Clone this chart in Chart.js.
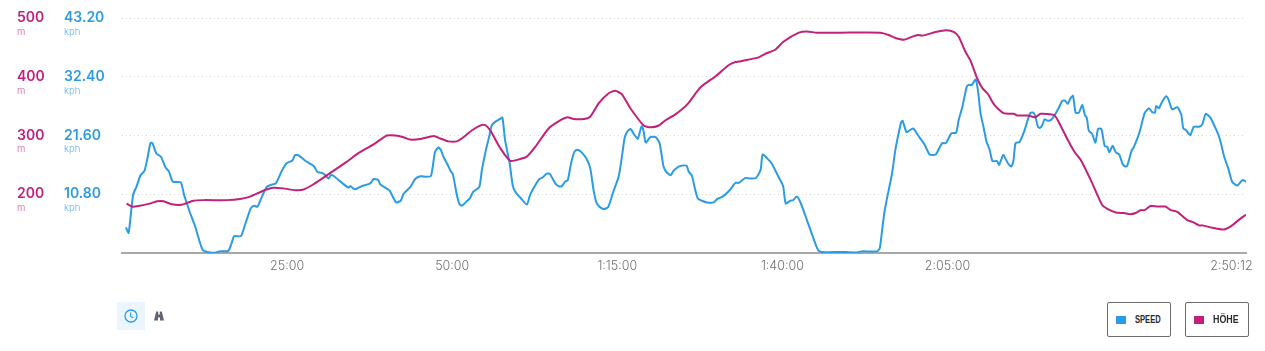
<!DOCTYPE html>
<html><head><meta charset="utf-8">
<style>
html,body{margin:0;padding:0;background:#fff;width:1265px;height:351px;overflow:hidden}
#wrap{position:relative;width:1265px;height:351px}
canvas{position:absolute;left:0;top:0}
.btn{position:absolute;top:302px;width:62px;height:33px;border:1px solid #6b6b6b;border-radius:2px;background:#fff;box-sizing:content-box}
.btn i{position:absolute;left:8px;top:13px;width:10px;height:8px}
.btn span{position:absolute;left:27px;top:10px;font:bold 11px/13px "Liberation Sans",sans-serif;color:#2b2b2b;transform-origin:0 50%;white-space:nowrap}
#clock{position:absolute;left:117px;top:302px;width:28px;height:28px;background:#eaf5fd}
#clock svg{position:absolute;left:7px;top:7px}
#bino{position:absolute;left:154px;top:311px}
</style></head><body>
<div id="wrap">
<canvas id="c" width="1265" height="351"></canvas>
<div id="clock"><svg width="14" height="14" viewBox="0 0 14 14"><circle cx="7" cy="7" r="6" fill="none" stroke="#2b9be3" stroke-width="1.3"/><path d="M6.6 3.6V7.4L9.4 8.8" fill="none" stroke="#2b9be3" stroke-width="1.1"/></svg></div>
<svg id="bino" width="10" height="10" viewBox="0 0 10 10"><path d="M2.2 0.5H4.2V3.5H5.8V0.5H7.8L10 9.5H6V6.5H4V9.5H0Z" fill="#5f6670"/></svg>
<div id="legend"></div>
</div>
<script src="https://cdn.jsdelivr.net/npm/chart.js@4"></script>
<script>
const speedTimes=[0.6,1.0,1.3,1.7,2.2,2.8,3.4,3.9,4.3,4.6,5.2,5.9,6.6,7.1,7.7,8.9,9.4,10.3,11.1,12.2,13.3,14.3,14.7,16.1,16.6,17.0,18.0,18.6,19.5,20.0,20.5,21.2,21.9,22.5,23.3,24.2,24.9,25.8,26.2,26.8,27.7,28.5,29.1,29.6,30.5,31.3,31.6,32.0,33.3,34.3,34.6,35.2,36.3,37.6,38.1,38.8,39.1,39.6,40.5,41.5,42.2,42.6,43.7,44.4,45.2,
46.1,46.8,47.4,47.9,48.3,48.7,49.2,49.8,50.1,50.7,51.1,51.5,52.1,52.7,53.2,54.1,54.5,55.1,55.6,56.0,56.5,57.2,57.6,58.0,58.7,59.2,59.7,60.3,61.3,61.8,62.6,63.2,63.7,64.3,64.8,65.6,66.1,66.6,67.1,67.5,68.0,68.5,69.0,69.6,70.3,70.9,71.4,71.8,72.3,72.9,73.6,74.4,75.2,75.7,76.1,76.5,77.0,77.6,78.1,78.5,78.7,79.0,79.3,80.0,80.8,81.4,82.0,82.5,83.1,83.5,84.3,85.0,85.5,85.8,86.3,86.8,87.2,87.8,88.6,89.6,90.1,91.0,91.9,92.9,93.4,94.4,95.1,96.0,96.7,97.0,97.7,98.4,99.2,100.1,100.5,101.2,101.6,102.2,102.8,103.7,104.7,105.6,108.8,
111.1,112.1,114.35,114.75,115.1,115.5,116.1,116.6,117.1,117.6,118.0,118.2,118.8,119.2,119.8,120.5,121.5,122.3,123.2,123.8,124.2,124.75,125.6,126.3,126.7,127.2,127.9,128.2,128.7,129.25,129.6,130.0,130.5,130.9,131.4,131.8,132.5,132.8,133.4,133.5,134.2,134.65,135.0,135.3,135.9,136.6,137.5,138.0,138.3,138.7,139.0,139.35,139.7,140.2,140.7,141.4,141.9,142.4,142.8,143.2,143.6,144.0,144.4,144.9,145.4,145.8,146.1,146.4,146.9,147.4,147.8,148.3,148.8,149.2,149.5,150.0,150.5,151.0,151.5,151.9,152.2,152.9,153.2,154.1,154.85,155.5,156.0,156.4,156.6,157.0,157.5,158.1,158.5,159.0,159.8,160.4,160.7,161.1,161.6,161.8,162.3,163.1,163.6,164.1,164.85,165.6,166.2,166.9,167.5,168.1,168.9,169.65,170.2];
const speedValues=[4.7,3.7,6.7,10.8,12.2,14.3,15.1,17.7,20.2,20.2,18.3,17.7,15.7,15.0,13.1,13.0,10.7,7.4,4.8,0.6,0.1,0.1,0.3,0.4,1.8,3.1,3.1,5.1,8.2,8.7,8.5,10.4,12.1,12.5,12.8,15.1,16.5,17.0,18.0,17.9,17.0,16.4,15.9,14.9,14.6,13.7,14.3,14.2,12.9,12.0,12.3,11.7,12.3,12.8,13.6,13.4,12.6,12.2,11.5,9.3,9.6,10.8,12.2,13.6,14.1,
14.0,14.2,18.6,19.4,18.9,17.6,16.5,15.0,14.5,10.7,9.0,8.7,9.4,10.1,11.3,12.1,15.3,18.9,21.4,23.5,24.1,24.6,24.9,20.8,16.5,12.2,11.0,10.2,8.9,10.7,12.5,13.6,13.9,14.6,14.5,12.8,12.3,12.3,13.1,13.4,16.5,18.6,19.0,18.5,17.4,15.6,11.6,9.4,8.5,8.1,8.4,11.3,14.0,17.7,21.1,22.3,22.8,21.7,21.0,22.6,23.3,22.3,20.3,21.3,21.3,20.2,15.9,14.8,14.3,15.1,15.9,16.1,16.0,15.0,14.2,11.6,10.0,9.6,9.3,9.3,9.9,10.4,11.4,12.9,12.9,13.8,13.7,13.8,15.3,18.1,17.4,16.4,14.5,12.3,9.1,9.6,9.7,10.4,9.1,6.1,2.7,0.3,0.2,
0.1,0.3,0.3,0.9,4.2,7.9,11.6,14.6,18.9,22.0,24.1,24.3,22.2,22.5,22.9,21.7,20.0,18.1,18.1,19.4,20.2,20.2,22.0,22.1,24.5,26.6,30.5,30.9,30.9,31.9,30.0,25.7,22.9,20.5,18.9,16.9,16.9,16.2,18.0,18.0,16.4,15.9,17.1,20.2,20.4,22.3,25.7,25.8,25.1,23.2,23.0,23.5,24.6,24.3,24.5,25.7,26.8,28.0,28.0,27.4,28.4,28.9,25.8,25.8,27.2,25.4,24.8,22.5,21.9,20.3,22.8,22.8,19.7,19.5,18.5,19.7,18.5,18.1,16.4,15.9,16.0,18.9,19.4,22.3,25.7,26.6,25.9,25.8,27.0,26.6,27.8,28.8,28.1,26.4,26.8,25.4,22.9,22.6,21.8,21.7,23.2,23.2,23.7,25.6,24.8,22.9,21.1,17.7,15.6,13.1,12.4,13.4,13.1];
const altitudeTimes=[0.7,1.5,2.5,4.2,5.3,6.3,7.5,9.0,10.8,12.3,15.9,17.9,19.4,21.4,22.9,24.4,26.2,27.5,29.0,31.0,34.0,35.8,38.1,40.1,41.4,42.6,43.6,45.2,47.2,48.2,49.4,50.7,51.7,53.0,54.5,55.1,55.8,57.3,58.8,60.3,61.3,62.6,64.6,66.1,67.4,68.4,69.9,70.9,72.2,73.7,74.7,75.7,77.0,79.0,80.0,81.3,82.3,83.8,85.6,87.6,89.9,91.9,92.9,94.4,96.4,97.4,98.9,100.2,102.5,103.7,105.25,108.8,114.85,116.1,117.1,118.4,119.4,120.5,121.2,123.2,124.85,126.0,126.7,127.7,128.5,129.5,130.25,131.1,132.1,133.5,135.05,135.55,137.1,138.3,139.1,141.1,141.7,143.1,144.3,145.2,146.7,148.4,149.2,150.5,151.7,152.7,153.5,154.25,154.85,155.75,156.8,158.0,158.8,159.8,161.3,162.1,163.1,163.6,165.1,166.9,168.1,169.4,170.2];
const altitudeValues=[184,179,180,184,188,188,183,182,189,190,190,192,196,206,211,210,207,208,217,232,255,270,285,300,300,297,293,294,299,295,290,290,297,309,318,317,308,278,257,260,264,281,312,324,331,328,328,332,355,372,376,370,346,317,314,317,326,336,353,382,401,420,425,428,433,439,446,460,475,477,475,475,475,471,466,463,467,471,470,476,479,476,468,443,427,397,381,371,352,338,337,334,334,331,337,335,326,295,271,258,224,182,175,169,168,166,168,173,173,180,179,179,173,170,156,153,147,147,143,140,147,159,165];
const xTickValues=[25,50,75,100,125,168];
const xTickLabels=['25:00','50:00','1:15:00','1:40:00','2:05:00','2:50:12'];
const altitudeTicks=[100,200,300,400,500];
const speedTicks=[0,10.8,21.6,32.4,43.2];
const seriesNames=['SPEED','HÖHE'];
const BLUE='#2b9be3',PINK='#c0217a';
const FONT='Inter, "Open Sans", sans-serif';

function zip(a,b){return a.map((x,i)=>({x,y:b[i]}));}
const fixedWidth=w=>(s)=>{s.width=w;};

const unitsPlugin={id:'units',afterDraw(ch){
  const g=ch.ctx;g.save();g.font='300 9.5px '+FONT;g.textBaseline='middle';g.textAlign='left';
  for(const [id,unit,col,list] of [['alt','m','#cf5a9b',altitudeTicks],['spd','kph','#62b3ea',speedTicks]]){
    const s=ch.scales[id];g.fillStyle=col;
    list.slice(1).forEach(v=>g.fillText(unit,s.left,s.getPixelForValue(v)+14));
  }
  g.restore();
}};

new Chart(document.getElementById('c'),{
  type:'line',
  data:{datasets:[
    {label:seriesNames[0],data:zip(speedTimes,speedValues),yAxisID:'spd',borderColor:BLUE,order:2},
    {label:seriesNames[1],data:zip(altitudeTimes,altitudeValues),yAxisID:'alt',borderColor:PINK,order:1}
  ]},
  options:{
    responsive:false,animation:false,
    layout:{padding:{left:17,top:18,right:19,bottom:0}},
    elements:{point:{radius:0},line:{borderWidth:2,tension:0.2,borderJoinStyle:'round'}},
    plugins:{legend:{display:false},tooltip:{enabled:false}},
    scales:{
      x:{type:'linear',min:0,max:170.2,
        afterFit:s=>{s.height=98;},
        afterBuildTicks:s=>{s.ticks=xTickValues.map(v=>({value:v}));},
        grid:{display:false,drawTicks:false},
        border:{display:true,color:'#a8a8a8',width:2,dash:[2,1]},
        ticks:{autoSkip:false,maxRotation:0,padding:6,color:'#6f6f6f',font:{family:FONT,size:12.5,weight:'300'},
          callback:(v)=>xTickLabels[xTickValues.indexOf(v)]}
      },
      spd:{position:'left',min:0,max:43.2,
        afterFit:fixedWidth(58),
        afterBuildTicks:s=>{s.ticks=speedTicks.map(v=>({value:v}));},
        border:{display:false},
        grid:{display:false},
        ticks:{crossAlign:'far',padding:0,color:BLUE,font:{family:FONT,size:14,weight:'600'},
          callback:v=>v===0?'':v.toFixed(2)}
      },
      alt:{position:'left',min:100,max:500,
        afterFit:fixedWidth(47),
        afterBuildTicks:s=>{s.ticks=altitudeTicks.map(v=>({value:v}));},
        border:{display:false,dash:[1,3]},
        grid:{color:(c)=>c.tick&&c.tick.value===100?'rgba(0,0,0,0)':'#d6d6d6',lineWidth:1,drawTicks:false},
        ticks:{crossAlign:'far',padding:0,color:PINK,font:{family:FONT,size:14,weight:'600'},
          callback:v=>v===100?'':String(v)}
      }
    }
  },
  plugins:[unitsPlugin]
});

const legend=document.getElementById('legend');
[[1107,BLUE,0.69],[1185,PINK,0.81]].forEach(([left,col,sx],i)=>{
  const b=document.createElement('div');b.className='btn';b.style.left=left+'px';
  const sw=document.createElement('i');sw.style.background=col;
  const t=document.createElement('span');t.textContent=seriesNames[i];t.style.transform='scaleX('+sx+')';
  b.append(sw,t);legend.append(b);
});
</script>
</body></html>
